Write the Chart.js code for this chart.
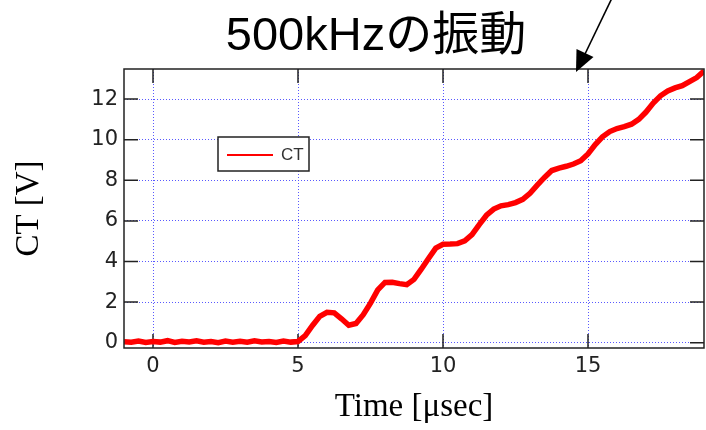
<!DOCTYPE html>
<html>
<head>
<meta charset="utf-8">
<script src="https://cdn.jsdelivr.net/npm/chart.js@4.4.0/dist/chart.umd.min.js"></script>
<style>
  body { margin: 0; background: #fff; }
</style>
</head>
<body>
<canvas id="chart" width="706" height="430"></canvas>
<script>
const title = '500kHzの振動';
const seriesLabel = 'CT';
const xTitle = 'Time [μsec]';
const yTitle = 'CT [V]';

const xTicks = [0, 5, 10, 15];
const yTicks = [0, 2, 4, 6, 8, 10, 12];

const timeUs = [
  -1, -0.75, -0.5, -0.25, 0, 0.25, 0.5, 0.75, 1, 1.25, 1.5, 1.75,
  2, 2.25, 2.5, 2.75, 3, 3.25, 3.5, 3.75, 4, 4.25, 4.5, 4.75,
  5, 5.25, 5.5, 5.75, 6, 6.25, 6.5, 6.75, 7, 7.25, 7.5, 7.75,
  8, 8.25, 8.5, 8.75, 9, 9.25, 9.5, 9.75, 10, 10.25, 10.5, 10.75,
  11, 11.25, 11.5, 11.75, 12, 12.25, 12.5, 12.75, 13, 13.25, 13.5, 13.75,
  14, 14.25, 14.5, 14.75, 15, 15.25, 15.5, 15.75, 16, 16.25, 16.5, 16.75,
  17, 17.25, 17.5, 17.75, 18, 18.25, 18.5, 18.75, 19
];
const ctVolts = [
  0.05, 0.02, 0.08, 0.01, 0.06, 0.03, 0.10, 0.01, 0.07, 0.04, 0.09, 0.02,
  0.06, 0.00, 0.08, 0.03, 0.07, 0.02, 0.09, 0.04, 0.06, 0.01, 0.08, 0.03,
  0.06, 0.35, 0.85, 1.30, 1.50, 1.47, 1.18, 0.86, 0.95, 1.38, 1.95, 2.60,
  2.97, 2.98, 2.91, 2.86, 3.12, 3.62, 4.15, 4.66, 4.85, 4.86, 4.88, 5.02,
  5.32, 5.82, 6.28, 6.58, 6.74, 6.80, 6.90, 7.06, 7.36, 7.76, 8.14, 8.48,
  8.60, 8.69, 8.80, 8.96, 9.30, 9.76, 10.14, 10.40, 10.55, 10.64, 10.76, 11.00,
  11.36, 11.80, 12.16, 12.40, 12.55, 12.66, 12.86, 13.06, 13.38
];

const serif = '"Liberation Serif", "Times New Roman", serif';
const tickFont = { family: '"DejaVu Sans", sans-serif', size: 21 };
const gridBlue = 'rgba(80,80,255,0.95)';

// inward black tick marks on all four sides, under the data
const innerTicks = {
  id: 'innerTicks',
  beforeDatasetsDraw(chart) {
    const { ctx, chartArea: a, scales: { x, y } } = chart;
    ctx.save();
    ctx.strokeStyle = '#222';
    ctx.lineWidth = 1.5;
    ctx.beginPath();
    x.ticks.forEach(t => {
      const px = x.getPixelForValue(t.value);
      ctx.moveTo(px, a.top); ctx.lineTo(px, a.top + 14);
      ctx.moveTo(px, a.bottom); ctx.lineTo(px, a.bottom - 14);
    });
    y.ticks.forEach(t => {
      const py = y.getPixelForValue(t.value);
      ctx.moveTo(a.left, py); ctx.lineTo(a.left + 14, py);
      ctx.moveTo(a.right, py); ctx.lineTo(a.right - 14, py);
    });
    ctx.stroke();
    ctx.restore();
  }
};

// frame, legend box, title and arrow
const decor = {
  id: 'decor',
  afterDraw(chart) {
    const { ctx, chartArea: a } = chart;
    ctx.save();
    ctx.strokeStyle = '#222';
    ctx.lineWidth = 1.5;
    ctx.strokeRect(a.left, a.top, a.width, a.height);

    // legend
    const lx = a.left + 94, ly = a.top + 68;
    ctx.fillStyle = '#fff';
    ctx.fillRect(lx, ly, 91, 34);
    ctx.strokeRect(lx, ly, 91, 34);
    ctx.strokeStyle = chart.data.datasets[0].borderColor;
    ctx.lineWidth = 2;
    ctx.beginPath();
    ctx.moveTo(lx + 9, ly + 18); ctx.lineTo(lx + 55, ly + 18);
    ctx.stroke();
    ctx.fillStyle = '#333';
    ctx.font = '17px "Liberation Sans", Arial, sans-serif';
    ctx.textBaseline = 'middle';
    ctx.textAlign = 'left';
    ctx.fillText(chart.data.datasets[0].label, lx + 63, ly + 18);

    // title
    ctx.fillStyle = '#000';
    ctx.font = '47px "Liberation Sans", "Noto Sans CJK JP", sans-serif';
    ctx.textAlign = 'center';
    ctx.textBaseline = 'alphabetic';
    ctx.fillText(title, 376, 50);

    // arrow
    ctx.strokeStyle = '#000';
    ctx.lineWidth = 1.6;
    ctx.beginPath();
    ctx.moveTo(612, -2); ctx.lineTo(585, 54);
    ctx.stroke();
    ctx.fillStyle = '#000';
    ctx.beginPath();
    ctx.moveTo(576, 72); ctx.lineTo(576.5, 49); ctx.lineTo(593.5, 57);
    ctx.closePath();
    ctx.fill();
    ctx.restore();
  }
};

new Chart(document.getElementById('chart'), {
  type: 'line',
  data: {
    datasets: [{
      label: seriesLabel,
      data: timeUs.map((t, i) => ({ x: t, y: ctVolts[i] })),
      borderColor: '#ff0000',
      borderWidth: 5.5,
      pointRadius: 0,
      tension: 0
    }]
  },
  options: {
    responsive: false,
    animation: false,
    devicePixelRatio: 1,
    layout: { padding: { top: 69, right: 2, left: 0, bottom: 0 } },
    plugins: { legend: { display: false }, tooltip: { enabled: false } },
    scales: {
      x: {
        type: 'linear',
        min: -1, max: 19,
        afterBuildTicks: s => { s.ticks = xTicks.map(v => ({ value: v })); },
        afterFit: s => { s.height = 82; },
        ticks: { font: tickFont, color: '#222', padding: 6, maxRotation: 0 },
        grid: { color: gridBlue, lineWidth: 1, drawTicks: false },
        border: { display: false, dash: [1, 2] },
        title: { display: true, text: xTitle, color: '#000', font: { family: serif, size: 33 }, padding: { top: 0, bottom: 3 } }
      },
      y: {
        min: -0.26, max: 13.48,
        afterBuildTicks: s => { s.ticks = yTicks.map(v => ({ value: v })); },
        afterFit: s => { s.width = 124; },
        ticks: { font: tickFont, color: '#222', padding: 6 },
        grid: { color: gridBlue, lineWidth: 1, drawTicks: false },
        border: { display: false, dash: [1, 2] },
        title: { display: true, text: yTitle, color: '#000', font: { family: serif, size: 33 }, padding: { top: 10, bottom: 0 } }
      }
    }
  },
  plugins: [innerTicks, decor]
});
</script>
</body>
</html>
